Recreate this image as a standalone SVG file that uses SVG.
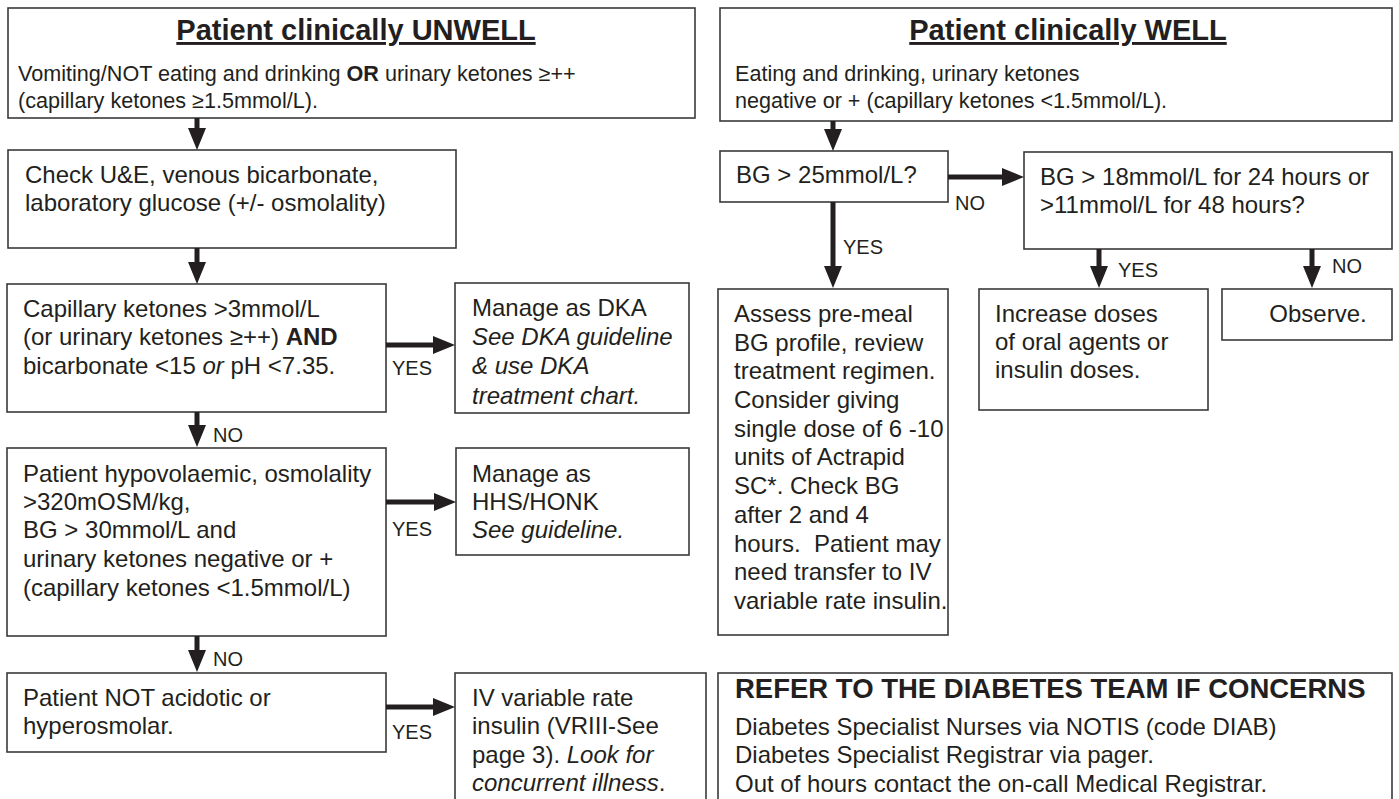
<svg xmlns="http://www.w3.org/2000/svg" width="1399" height="799" viewBox="0 0 1399 799">
<style>
text{font-family:"Liberation Sans",Arial,sans-serif;fill:#231f20}
.t{font-size:24px}
.s{font-size:21.6px}
.h{font-size:29px;font-weight:bold;text-decoration:underline}
.r{font-size:27.5px;font-weight:bold}
.l{font-size:20px}
.b{font-weight:bold}
.i{font-style:italic}
rect{fill:#fff;stroke:#3a3a3a;stroke-width:1.6}
.c line{stroke:#231f20;stroke-width:5}
</style>
<defs>
<marker id="ah" markerWidth="22" markerHeight="18" refX="0" refY="9" orient="auto" markerUnits="userSpaceOnUse"><path d="M0,0 L22,9 L0,18 z" fill="#231f20"/></marker>
</defs>
<rect x="0" y="0" width="1399" height="799" style="stroke:none"/>

<g id="unwell">
<rect x="8" y="8" width="687" height="110"/>
<text class="h" x="356" y="40" text-anchor="middle">Patient clinically UNWELL</text>
<text class="s" x="18" y="81">Vomiting/NOT eating and drinking <tspan class="b">OR</tspan> urinary ketones ≥++</text>
<text class="s" x="18" y="108">(capillary ketones ≥1.5mmol/L).</text>
</g>

<g id="well">
<rect x="720" y="8" width="672" height="113"/>
<text class="h" x="1068" y="40" text-anchor="middle">Patient clinically WELL</text>
<text class="s" x="735" y="81">Eating and drinking, urinary ketones</text>
<text class="s" x="735" y="108">negative or + (capillary ketones &lt;1.5mmol/L).</text>
</g>

<g id="check">
<rect x="8" y="150" width="448" height="98"/>
<text class="t" x="25" y="183">Check U&amp;E, venous bicarbonate,</text>
<text class="t" x="25" y="211">laboratory glucose (+/- osmolality)</text>
</g>

<g id="ketones">
<rect x="7" y="284" width="379" height="128"/>
<text class="t" x="23" y="317">Capillary ketones &gt;3mmol/L</text>
<text class="t" x="23" y="345">(or urinary ketones ≥++) <tspan class="b">AND</tspan></text>
<text class="t" x="23" y="374">bicarbonate &lt;15 <tspan class="i">or</tspan> pH &lt;7.35.</text>
</g>

<g id="dka">
<rect x="455" y="283" width="234" height="130"/>
<text class="t" x="472" y="316">Manage as DKA</text>
<text class="t i" x="472" y="345">See DKA guideline</text>
<text class="t i" x="472" y="374">&amp; use DKA</text>
<text class="t i" x="472" y="404">treatment chart.</text>
</g>

<g id="hypo">
<rect x="7" y="448" width="379" height="188"/>
<text class="t" x="23" y="482">Patient hypovolaemic, osmolality</text>
<text class="t" x="23" y="510">&gt;320mOSM/kg,</text>
<text class="t" x="23" y="538">BG &gt; 30mmol/L and</text>
<text class="t" x="23" y="567">urinary ketones negative or +</text>
<text class="t" x="23" y="596">(capillary ketones &lt;1.5mmol/L)</text>
</g>

<g id="hhs">
<rect x="456" y="448" width="233" height="107"/>
<text class="t" x="472" y="482">Manage as</text>
<text class="t" x="472" y="510">HHS/HONK</text>
<text class="t i" x="472" y="538">See guideline.</text>
</g>

<g id="notacid">
<rect x="7" y="673" width="379" height="79"/>
<text class="t" x="23" y="706">Patient NOT acidotic or</text>
<text class="t" x="23" y="734">hyperosmolar.</text>
</g>

<g id="vriii">
<rect x="455" y="673" width="251" height="150"/>
<text class="t" x="472" y="706">IV variable rate</text>
<text class="t" x="472" y="734">insulin (VRIII-See</text>
<text class="t" x="472" y="763">page 3). <tspan class="i">Look for</tspan></text>
<text class="t" x="472" y="791"><tspan class="i">concurrent illness</tspan>.</text>
</g>

<g id="bg25">
<rect x="720" y="151" width="228" height="51"/>
<text class="t" x="736" y="183">BG &gt; 25mmol/L?</text>
</g>

<g id="assess">
<rect x="718" y="289" width="230" height="346"/>
<text class="t" x="734" y="322">Assess pre-meal</text>
<text class="t" x="734" y="351">BG profile, review</text>
<text class="t" x="734" y="379">treatment regimen.</text>
<text class="t" x="734" y="408">Consider giving</text>
<text class="t" x="734" y="437">single dose of 6 -10</text>
<text class="t" x="734" y="465">units of Actrapid</text>
<text class="t" x="734" y="494">SC*. Check BG</text>
<text class="t" x="734" y="523">after 2 and 4</text>
<text class="t" x="734" y="552" xml:space="preserve">hours.  Patient may</text>
<text class="t" x="734" y="580">need transfer to IV</text>
<text class="t" x="734" y="609">variable rate insulin.</text>
</g>

<g id="bg18">
<rect x="1024" y="152" width="368" height="97"/>
<text class="t" x="1040" y="185">BG &gt; 18mmol/L for 24 hours or</text>
<text class="t" x="1040" y="213">&gt;11mmol/L for 48 hours?</text>
</g>

<g id="increase">
<rect x="979" y="289" width="229" height="121"/>
<text class="t" x="995" y="322">Increase doses</text>
<text class="t" x="995" y="350">of oral agents or</text>
<text class="t" x="995" y="378">insulin doses.</text>
</g>

<g id="observe">
<rect x="1222" y="289" width="170" height="51"/>
<text class="t" x="1318" y="322" text-anchor="middle">Observe.</text>
</g>

<g id="refer">
<rect x="718" y="673" width="674" height="150"/>
<text class="r" x="735" y="698">REFER TO THE DIABETES TEAM IF CONCERNS</text>
<text class="t" x="735" y="735">Diabetes Specialist Nurses via NOTIS (code DIAB)</text>
<text class="t" x="735" y="763">Diabetes Specialist Registrar via pager.</text>
<text class="t" x="735" y="792">Out of hours contact the on-call Medical Registrar.</text>
</g>

<g id="connectors" class="c">
<line x1="197" y1="118" x2="197" y2="128" marker-end="url(#ah)"/>
<line x1="197" y1="248" x2="197" y2="262" marker-end="url(#ah)"/>
<line x1="386" y1="345" x2="433" y2="345" marker-end="url(#ah)"/>
<line x1="197" y1="412" x2="197" y2="425" marker-end="url(#ah)"/>
<line x1="386" y1="502" x2="434" y2="502" marker-end="url(#ah)"/>
<line x1="197" y1="636" x2="197" y2="650" marker-end="url(#ah)"/>
<line x1="386" y1="707" x2="433" y2="707" marker-end="url(#ah)"/>
<line x1="833" y1="121" x2="833" y2="129" marker-end="url(#ah)"/>
<line x1="948" y1="177" x2="1002" y2="177" marker-end="url(#ah)"/>
<line x1="833" y1="202" x2="833" y2="266" marker-end="url(#ah)"/>
<line x1="1099" y1="249" x2="1099" y2="266" marker-end="url(#ah)"/>
<line x1="1312" y1="249" x2="1312" y2="266" marker-end="url(#ah)"/>
<text class="l" x="392" y="375">YES</text>
<text class="l" x="213" y="442">NO</text>
<text class="l" x="392" y="536">YES</text>
<text class="l" x="213" y="666">NO</text>
<text class="l" x="392" y="739">YES</text>
<text class="l" x="955" y="210">NO</text>
<text class="l" x="843" y="254">YES</text>
<text class="l" x="1118" y="277">YES</text>
<text class="l" x="1332" y="273">NO</text>
</g>
</svg>
